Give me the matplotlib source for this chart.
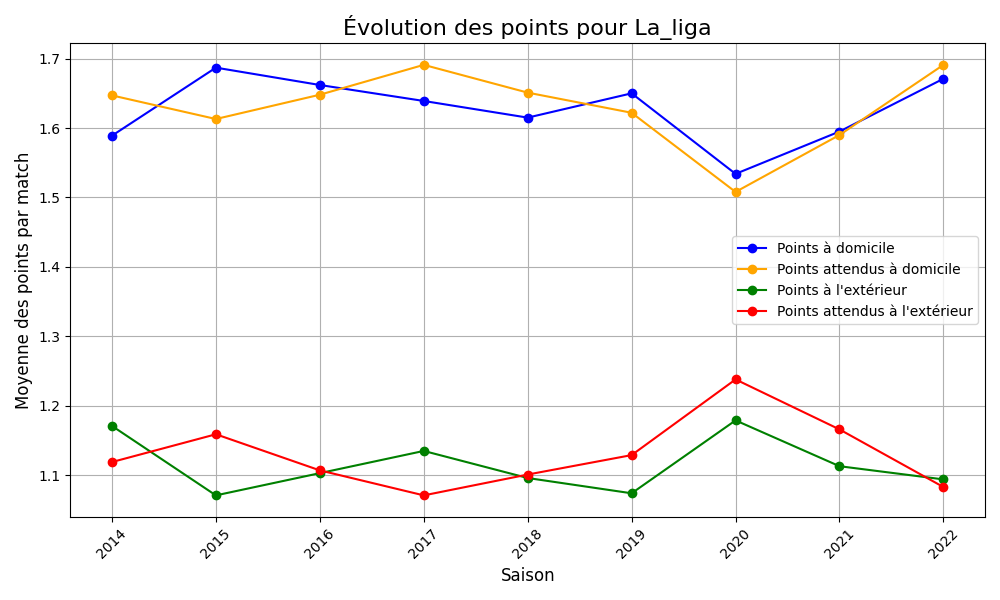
import matplotlib
matplotlib.use("Agg")
import matplotlib.pyplot as plt

saisons = [2014, 2015, 2016, 2017, 2018, 2019, 2020, 2021, 2022]
points_dom = [1.589, 1.687, 1.662, 1.639, 1.615, 1.650, 1.534, 1.595, 1.671]
xpts_dom = [1.647, 1.613, 1.648, 1.691, 1.651, 1.622, 1.508, 1.590, 1.691]
points_ext = [1.171, 1.071, 1.103, 1.135, 1.096, 1.074, 1.179, 1.113, 1.094]
xpts_ext = [1.119, 1.159, 1.107, 1.071, 1.101, 1.129, 1.238, 1.166, 1.083]

fig, ax = plt.subplots(figsize=(10, 6))
ax.plot(saisons, points_dom, marker="o", color="blue", label="Points à domicile")
ax.plot(saisons, xpts_dom, marker="o", color="orange", label="Points attendus à domicile")
ax.plot(saisons, points_ext, marker="o", color="green", label="Points à l'extérieur")
ax.plot(saisons, xpts_ext, marker="o", color="red", label="Points attendus à l'extérieur")

ax.set_title("Évolution des points pour La_liga", fontsize=16)
ax.set_xlabel("Saison", fontsize=12)
ax.set_ylabel("Moyenne des points par match", fontsize=12)
ax.set_xticks(saisons)
plt.setp(ax.get_xticklabels(), rotation=45)
ax.legend(loc="center right")
ax.grid(True)
fig.tight_layout()
fig.savefig("out.png", dpi=100)
